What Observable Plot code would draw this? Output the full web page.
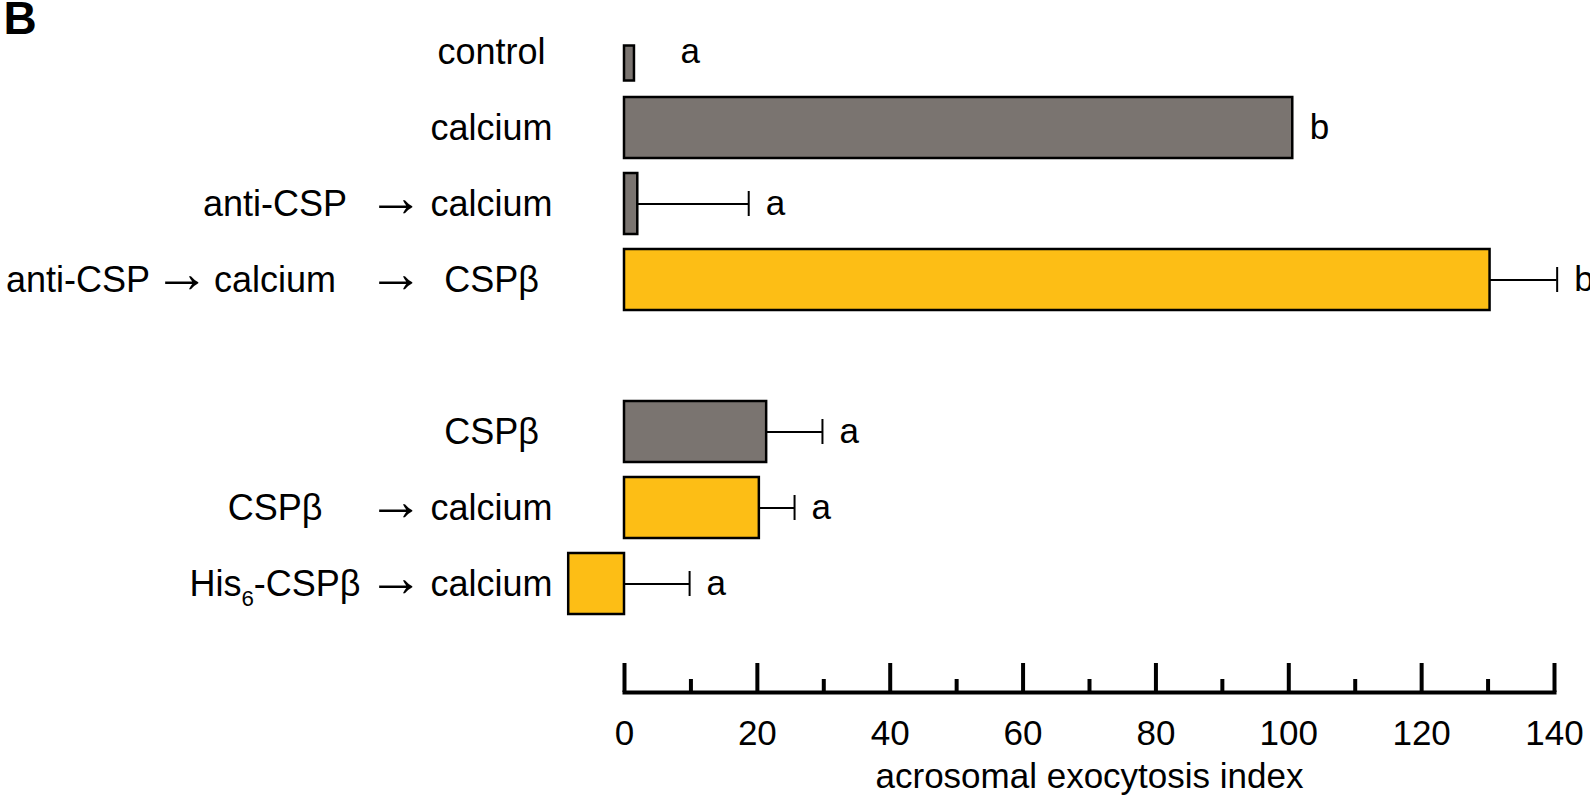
<!DOCTYPE html>
<html>
<head>
<meta charset="utf-8">
<script src="https://cdn.jsdelivr.net/npm/d3@7"></script>
<script src="https://cdn.jsdelivr.net/npm/@observablehq/plot@0.6"></script>
<style>
  html, body { margin: 0; padding: 0; background: #ffffff; }
  #chart svg { display: block; }
</style>
</head>
<body>
<div id="chart"></div>
<script>
// ---- data ----
const conditions = [
  "control",
  "calcium",
  "anti-CSP → calcium",
  "anti-CSP → calcium → CSPβ",
  "CSPβ",
  "CSPβ → calcium",
  "His6-CSPβ → calcium"
];
const values  = [1.5, 100.6, 2.0, 130.3, 21.4, 20.3, -8.4];
const errors  = [0, 0, 16.7, 10.1, 8.4, 5.3, 9.8];
const letters = ["a", "b", "a", "b", "a", "a", "a"];
const groups  = ["plain", "plain", "plain", "CSPβ added", "plain", "CSPβ added", "CSPβ added"];
const majorTicks = [0, 20, 40, 60, 80, 100, 120, 140];
const minorTicks = [10, 30, 50, 70, 90, 110, 130];
const xTitle = "acrosomal exocytosis index";
const panelLetter = "B";

// ---- table built from the arrays ----
const rows = conditions.map((c, i) => ({
  condition: c,
  value: values[i],
  err: errors[i],
  letter: letters[i],
  group: groups[i],
  parts: c.split(" → ")
}));
const spacer = " ";
const yDomain = [...conditions.slice(0, 4), spacer, ...conditions.slice(4)];
const errRows = rows.filter(d => d.err > 0);
const barEnd = d => Math.max(0, d.value);
const errEnd = d => Math.max(0, d.value) + d.err;

const col3 = rows.map(d => ({condition: d.condition, text: d.parts[d.parts.length - 1]}));
const col2 = rows.filter(d => d.parts.length >= 2).map(d => ({condition: d.condition, text: d.parts[d.parts.length - 2]}));
const col1 = rows.filter(d => d.parts.length >= 3).map(d => ({condition: d.condition, text: d.parts[d.parts.length - 3]}));

const labelFont = 36;
const arrowFont = 56;

const chart = Plot.plot({
  width: 1590,
  height: 803,
  marginLeft: 624,
  marginRight: 36,
  marginTop: 0,
  marginBottom: 111,
  style: {
    fontFamily: "'Liberation Sans', Arial, Helvetica, sans-serif",
    fontSize: labelFont + "px",
    color: "black",
    background: "white"
  },
  x: {domain: [0, 140], label: null, axis: null},
  y: {type: "band", domain: yDomain, range: [18.45, 617.9], paddingInner: 0.1925, paddingOuter: 0, axis: null},
  color: {domain: ["plain", "CSPβ added"], range: ["#7a7470", "#fdbe15"]},
  marks: [
    // axis line + ticks
    Plot.frame({anchor: "bottom", strokeWidth: 4}),
    Plot.axisX(majorTicks, {tickSize: -29, tickPadding: 56.5, strokeWidth: 4, fontSize: 35, label: null, tickFormat: d => String(d)}),
    Plot.axisX(minorTicks, {tickSize: -13, strokeWidth: 4, label: null, tickFormat: () => ""}),
    Plot.text([xTitle], {text: d => d, frameAnchor: "bottom", dy: 84, lineAnchor: "middle", fontSize: 35}),
    // error bars
    Plot.ruleY(errRows, {y: "condition", x1: barEnd, x2: errEnd, strokeWidth: 2}),
    Plot.tickX(errRows, {y: "condition", x: errEnd, insetTop: 18, insetBottom: 18, strokeWidth: 2}),
    // bars
    Plot.barX(rows.filter(d => d.condition !== "control"), {y: "condition", x: "value", fill: "group", stroke: "black", strokeWidth: 2.5}),
    Plot.barX(rows.filter(d => d.condition === "control"), {y: "condition", x: "value", fill: "group", stroke: "black", strokeWidth: 2.5, insetTop: 24.5, insetBottom: 1.5}),
    // significance letters
    Plot.text(rows.filter(d => d.condition !== "control"), {y: "condition", x: errEnd, text: "letter", textAnchor: "start", dx: 17, lineAnchor: "middle", fontSize: 35}),
    Plot.text(rows.filter(d => d.condition === "control"), {y: "condition", x: errEnd, text: "letter", textAnchor: "start", dx: 46, lineAnchor: "middle", fontSize: 35}),
    // condition labels (columns of the treatment sequence)
    Plot.text(col3, {y: "condition", text: "text", frameAnchor: "left", dx: -133, textAnchor: "middle", lineAnchor: "middle"}),
    Plot.text(col2, {y: "condition", text: () => "→", frameAnchor: "left", dx: -229, dy: -6, textAnchor: "middle", lineAnchor: "middle", fontSize: arrowFont}),
    Plot.text(col2, {y: "condition", text: "text", frameAnchor: "left", dx: -349.5, textAnchor: "middle", lineAnchor: "middle"}),
    Plot.text(col1, {y: "condition", text: () => "→", frameAnchor: "left", dx: -443, dy: -6, textAnchor: "middle", lineAnchor: "middle", fontSize: arrowFont}),
    Plot.text(col1, {y: "condition", text: "text", frameAnchor: "left", dx: -546.5, textAnchor: "middle", lineAnchor: "middle"}),
    // panel letter
    Plot.text([panelLetter], {text: d => d, frameAnchor: "top-left", dx: -621, dy: 1, lineAnchor: "top", fontSize: 46, fontWeight: "bold"})
  ]
});

document.getElementById("chart").appendChild(chart);

// subscript for His6
d3.select(chart).selectAll("text")
  .filter(function () { return this.textContent === "His6-CSPβ"; })
  .each(function () {
    const t = d3.select(this);
    t.text(null);
    t.append("tspan").text("His");
    t.append("tspan").attr("dy", 10).attr("font-size", "0.62em").text("6");
    t.append("tspan").attr("dy", -10).text("-CSPβ");
  });
</script>
</body>
</html>
